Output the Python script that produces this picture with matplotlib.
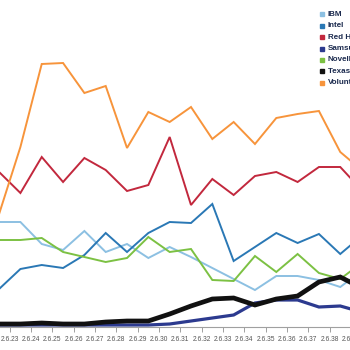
import numpy as np
import matplotlib
matplotlib.use("Agg")
from matplotlib import pyplot as plt

# kernel releases on the x axis (tick labels)
versions = ["2.6.23", "2.6.24", "2.6.25", "2.6.26", "2.6.27", "2.6.28",
            "2.6.29", "2.6.30", "2.6.31", "2.6.32", "2.6.33", "2.6.34",
            "2.6.35", "2.6.36", "2.6.37", "2.6.38", "2.6.39"]

# share of changes (%), one point per release gap
ibm = [10.5, 10.5, 8.3, 7.7, 9.6, 7.5, 8.3, 6.9, 8.0, 7.0, 5.9, 4.8, 3.7, 5.1, 5.1, 4.7, 4.0, 5.6]
intel = [3.8, 5.8, 6.2, 5.9, 7.2, 9.4, 7.5, 9.4, 10.5, 10.4, 12.3, 6.6, 8.0, 9.4, 8.4, 9.3, 7.3, 9.1]
redhat = [15.5, 13.4, 17.0, 14.5, 16.9, 15.7, 13.6, 14.2, 19.0, 12.2, 14.8, 13.2, 15.1, 15.5, 14.5, 16.0, 16.0, 13.7]
samsung = [0.2, 0.2, 0.2, 0.2, 0.2, 0.2, 0.2, 0.2, 0.3, 0.6, 0.9, 1.2, 2.4, 2.7, 2.7, 2.0, 2.1, 1.5]
novell = [8.7, 8.7, 8.9, 7.5, 7.0, 6.5, 6.9, 9.0, 7.5, 7.8, 4.7, 4.6, 7.1, 5.5, 7.3, 5.4, 4.8, 6.4]
texas = [0.3, 0.3, 0.4, 0.3, 0.3, 0.5, 0.6, 0.6, 1.3, 2.1, 2.8, 2.9, 2.2, 2.8, 3.1, 4.5, 5.0, 3.9]
volunteers = [11.3, 18.0, 26.3, 26.4, 23.4, 24.1, 17.9, 21.5, 20.5, 22.0, 18.8, 20.5, 18.3, 20.9, 21.3, 21.6, 17.5, 15.7]

names = ["IBM", "Intel", "Red Hat", "Samsung", "Novell", "Texas Instruments", "Volunteers"]
colors = ["#8cc0e2", "#2a78b5", "#c2283d", "#2c3a8f", "#7cc143", "#111111", "#f7943b"]
widths = [1.4, 1.4, 1.4, 2.3, 1.4, 3.4, 1.4]
series = [ibm, intel, redhat, samsung, novell, texas, volunteers]

x = np.arange(-1, len(versions)) + 0.5
xt = np.arange(len(versions))

fig = plt.figure(figsize=(3.5, 3.5), dpi=100)
# the picture is a crop of a bigger chart, so the axes run past the edges
ax = fig.add_axes([-0.0087, 23 / 350, 361 / 350, 327 / 350])

order = [0, 1, 2, 4, 6, 3, 5]  # navy and black last
for i in order:
    ax.plot(x, series[i], color=colors[i], lw=widths[i],
            solid_joinstyle="miter", zorder=3 + (i == 5))

ax.set_xlim(-0.6, 16.33)
ax.set_ylim(0, 32.7)
for s in ["top", "left", "right"]:
    ax.spines[s].set_visible(False)
ax.spines["bottom"].set_color("#a0a0a0")
ax.spines["bottom"].set_linewidth(0.8)
ax.set_yticks([])
ax.set_xticks(xt)
ax.set_xticklabels(versions, fontsize=4.8, color="#555555",
                   family=["Liberation Sans", "DejaVu Sans"])
ax.tick_params(axis="x", length=3.8, width=0.7, color="#a0a0a0", pad=3)

# legend drawn by hand, it runs off the right edge
for i, name in enumerate(names):
    yy = 1 - (14.3 + 11.4 * i) / 350
    fig.add_artist(plt.Line2D([322 / 350], [yy], marker="s", markersize=3.2,
                              color=colors[i], transform=fig.transFigure))
    fig.text(327.5 / 350, yy, name, fontsize=5.8, fontweight="bold",
             color="#1c2b4f", va="center", ha="left",
             family=["Liberation Sans Narrow", "Liberation Sans"])

fig.savefig("out.png", dpi=100)
